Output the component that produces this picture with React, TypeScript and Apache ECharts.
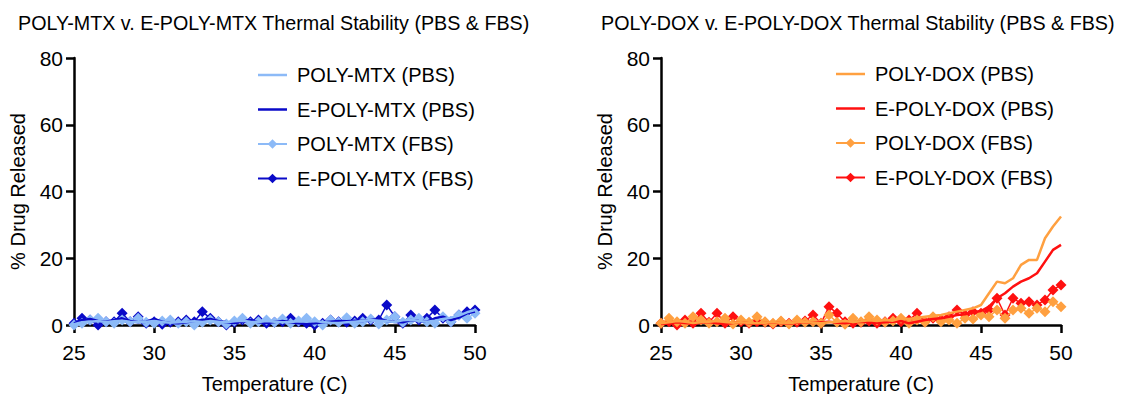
import React, { useEffect, useRef } from "react";
import * as echarts from "echarts";

const temps = [
  25, 25.5, 26, 26.5, 27, 27.5, 28, 28.5, 29, 29.5,
  30, 30.5, 31, 31.5, 32, 32.5, 33, 33.5, 34, 34.5,
  35, 35.5, 36, 36.5, 37, 37.5, 38, 38.5, 39, 39.5,
  40, 40.5, 41, 41.5, 42, 42.5, 43, 43.5, 44, 44.5,
  45, 45.5, 46, 46.5, 47, 47.5, 48, 48.5, 49, 49.5,
  50,
];

const xTicks = { min: 25, max: 50, interval: 5 };
const yTicks = { min: 0, max: 80, interval: 20 };

const mtxPolyPBS = [
  0.2, 0.8, 1.0, 1.2, 0.9, 1.1, 1.3, 1.0, 0.8, 1.0,
  1.2, 0.9, 0.7, 0.8, 1.0, 1.1, 0.9, 1.2, 1.0, 0.8,
  1.1, 1.3, 1.0, 0.9, 1.2, 1.0, 0.8, 0.9, 1.1, 1.0,
  1.2, 0.9, 0.7, 0.6, 0.8, 1.0, 1.2, 1.5, 1.3, 1.1,
  0.9, 1.4, 1.6, 1.2, 1.0, 1.3, 1.8, 2.2, 2.8, 3.8,
  4.5,
];
const mtxEPBS = [
  0.5, 1.5, 1.8, 1.2, 1.0, 1.5, 2.0, 1.2, 0.8, 1.0,
  1.8, 1.0, 0.6, 0.5, 0.8, 1.2, 1.5, 1.8, 1.2, 0.8,
  0.6, 1.0, 1.5, 0.8, 0.6, 0.9, 1.2, 0.8, 0.5, 0.3,
  0.5, 0.8, 1.0, 1.2, 1.1, 1.3, 1.2, 1.5, 1.8, 1.2,
  0.9, 0.8, 1.5, 1.2, 1.0, 2.0, 2.5, 1.5, 2.2, 3.5,
  4.0,
];
const mtxPolyFBS = [
  0.0, 0.5, 1.5, 2.0, 1.0, 0.5, 1.5, 1.0, 2.0, 0.8,
  0.5, 1.2, 1.5, 0.5, 1.0, 0.0, 0.8, 1.5, 1.0, 0.3,
  1.2, 2.0, 0.5, 1.0, 1.5, 0.8, 1.8, 0.5, 1.2, 2.0,
  1.0, 0.0, 1.5, 0.8, 2.2, 0.5, 1.0, 1.8, 0.3, 1.5,
  2.5, 0.8, 1.5, 2.0, 1.0, 0.5, 2.5, 1.0, 3.0, 2.0,
  3.5,
];
const mtxEFBS = [
  0.5, 2.0, 1.5, 0.0, 1.0, 1.0, 3.5, 1.0, 2.5, 0.5,
  1.0, 0.2, 0.8, 1.0, 1.5, 1.0, 4.0, 2.0, 1.0, 0.0,
  0.8, 1.5, 1.0, 1.5, 0.5, 0.8, 1.0, 2.0, 1.0, 0.5,
  0.0, 0.5, 1.5, 1.0, 0.8, 1.2, 2.0, 1.5, 1.5, 6.0,
  2.5, 0.5, 3.0, 1.5, 2.0, 4.5, 2.0, 1.0, 3.0, 4.0,
  4.5,
];

const doxPolyPBS = [
  0.5, 0.8, 1.2, 1.0, 0.6, 0.8, 1.0, 1.2, 0.9, 0.7,
  0.8, 0.6, 0.5, 0.7, 0.9, 0.6, 0.5, 0.8, 1.0, 0.7,
  0.5, 0.8, 1.0, 1.2, 0.9, 1.1, 1.4, 1.2, 1.5, 1.3,
  2.0, 1.8, 2.2, 2.5, 2.8, 3.0, 3.5, 4.0, 4.5, 5.0,
  6.0, 9.5, 13.0, 12.5, 14.0, 18.0, 19.5, 19.5, 26.0, 29.5,
  32.5,
];
const doxEPBS = [
  0.3, 0.5, 0.8, 0.6, 0.4, 0.7, 0.9, 0.5, 0.3, 0.6,
  0.8, 0.5, 0.3, 0.6, 0.8, 0.5, 0.4, 0.7, 0.9, 0.6,
  0.8, 1.0, 0.7, 0.5, 0.8, 1.0, 0.9, 0.6, 0.8, 1.0,
  1.2, 0.5, 1.0, 1.5, 1.8, 2.0, 2.5, 3.0, 3.2, 3.8,
  4.2, 5.5, 8.0, 9.5, 11.5, 13.0, 14.0, 15.5, 19.0, 22.5,
  24.0,
];
const doxPolyFBS = [
  0.5, 2.0, 1.0, 0.5, 2.5, 1.5, 0.5, 1.0, 2.0, 0.3,
  1.5, 0.8, 2.5, 1.0, 0.5, 1.2, 0.3, 1.5, 0.8, 1.0,
  0.5, 3.0, 0.8, 0.2, 2.0, 1.0, 2.5, 1.5, 0.8, 1.2,
  2.0, 0.5, 1.5, 0.8, 2.5, 1.0, 1.5, 0.5, 2.0, 1.8,
  3.0, 2.5, 4.5, 2.0, 4.5, 5.0, 3.5, 5.0, 4.0, 7.0,
  5.5,
];
const doxEFBS = [
  0.5, 1.0, 0.0, 1.5, 0.5, 3.5, 0.8, 3.5, 0.5, 2.5,
  1.0, 0.5, 1.0, 0.8, 0.3, 1.0, 0.5, 0.8, 1.2, 3.0,
  0.5, 5.5, 3.5, 1.0, 0.5, 0.8, 1.2, 0.5, 1.0, 2.0,
  1.0, 1.5, 3.5, 1.0, 2.0, 1.5, 2.5, 4.5, 3.0, 4.0,
  3.5, 4.5, 8.0, 3.0, 8.0, 6.5, 7.0, 6.0, 7.5, 10.5,
  12.0,
];

const leftNames = ["POLY-MTX (PBS)", "E-POLY-MTX (PBS)", "POLY-MTX (FBS)", "E-POLY-MTX (FBS)"];
const rightNames = ["POLY-DOX (PBS)", "E-POLY-DOX (PBS)", "POLY-DOX (FBS)", "E-POLY-DOX (FBS)"];
const titles = [
  "POLY-MTX v. E-POLY-MTX Thermal Stability (PBS & FBS)",
  "POLY-DOX v. E-POLY-DOX Thermal Stability (PBS & FBS)",
];

const C_LIGHTBLUE = "#8cbaf7";
const C_DARKBLUE = "#0a0ac8";
const C_ORANGE = "#ffa040";
const C_RED = "#ff1010";

const FONT = 'Arial, "Liberation Sans", sans-serif';
const LINE_ICON = "path://M0,0 L58,0 L58,5 L0,5 Z";

const pairs = (vals: number[]) => temps.map((t, i) => [t, vals[i]]);

function lineSeries(name: string, vals: number[], color: string, idx: number, z: number) {
  return {
    type: "line",
    name,
    data: pairs(vals),
    xAxisIndex: idx,
    yAxisIndex: idx,
    symbol: "none",
    showSymbol: false,
    lineStyle: { color, width: 2.5 },
    itemStyle: { color },
    z,
  };
}
function markerSeries(name: string, vals: number[], color: string, idx: number, z: number) {
  return {
    type: "line",
    name,
    data: pairs(vals),
    xAxisIndex: idx,
    yAxisIndex: idx,
    symbol: "diamond",
    symbolSize: 11,
    showSymbol: true,
    lineStyle: { color, width: 1.5 },
    itemStyle: { color },
    z,
  };
}

function axisPair(gridIndex: number) {
  return {
    x: {
      type: "value",
      gridIndex,
      min: xTicks.min,
      max: xTicks.max,
      interval: xTicks.interval,
      name: "Temperature (C)",
      nameLocation: "middle",
      nameGap: 49,
      nameTextStyle: { fontSize: 20, color: "#000", fontFamily: FONT },
      axisLine: { show: true, lineStyle: { color: "#000", width: 2.5 } },
      axisTick: { show: true, length: 8, lineStyle: { color: "#000", width: 2.5 } },
      axisLabel: { fontSize: 21, color: "#000", margin: 17, fontFamily: FONT },
      splitLine: { show: false },
    },
    y: {
      type: "value",
      gridIndex,
      min: yTicks.min,
      max: yTicks.max,
      interval: yTicks.interval,
      name: "% Drug Released",
      nameLocation: "middle",
      nameGap: 46,
      nameTextStyle: { fontSize: 20, color: "#000", fontFamily: FONT },
      axisLine: { show: true, lineStyle: { color: "#000", width: 2.5 } },
      axisTick: { show: true, length: 8, lineStyle: { color: "#000", width: 2.5 } },
      axisLabel: { fontSize: 21, color: "#000", margin: 11, fontFamily: FONT },
      splitLine: { show: false },
    },
  };
}

function legendData(names: string[]) {
  return names.map((n, i) => (i < 2 ? { name: n, icon: LINE_ICON } : { name: n }));
}

export default function App() {
  const ref = useRef<HTMLDivElement>(null);
  useEffect(() => {
    if (!ref.current) return;
    const chart = echarts.init(ref.current, undefined, { renderer: "svg" });
    const a0 = axisPair(0);
    const a1 = axisPair(1);
    const legendCommon = {
      orient: "vertical",
      itemWidth: 29,
      itemHeight: 12,
      itemGap: 14.5,
      textStyle: { fontSize: 20, color: "#000", fontFamily: FONT, padding: [0, 0, 0, 5] },
    };
    const titleStyle = { fontSize: 19.7, fontWeight: "normal", color: "#000", fontFamily: FONT };
    chart.setOption({
      animation: false,
      backgroundColor: "#fff",
      title: [
        { text: titles[0], left: 13, top: 8, textStyle: titleStyle },
        { text: titles[1], left: 596, top: 8, textStyle: titleStyle },
      ],
      legend: [
        { ...legendCommon, data: legendData(leftNames), left: 252, top: 60 },
        { ...legendCommon, data: legendData(rightNames), left: 830, top: 59 },
      ],
      grid: [
        { left: 74, top: 58, width: 401, height: 267, containLabel: false, outerBoundsMode: "none" },
        { left: 661, top: 58, width: 400, height: 267, containLabel: false, outerBoundsMode: "none" },
      ],
      xAxis: [a0.x, a1.x],
      yAxis: [a0.y, a1.y],
      series: [
        markerSeries(leftNames[3], mtxEFBS, C_DARKBLUE, 0, 2),
        markerSeries(leftNames[2], mtxPolyFBS, C_LIGHTBLUE, 0, 3),
        lineSeries(leftNames[1], mtxEPBS, C_DARKBLUE, 0, 4),
        lineSeries(leftNames[0], mtxPolyPBS, C_LIGHTBLUE, 0, 5),
        markerSeries(rightNames[3], doxEFBS, C_RED, 1, 2),
        markerSeries(rightNames[2], doxPolyFBS, C_ORANGE, 1, 3),
        lineSeries(rightNames[1], doxEPBS, C_RED, 1, 4),
        lineSeries(rightNames[0], doxPolyPBS, C_ORANGE, 1, 5),
      ],
    });
    return () => chart.dispose();
  }, []);
  return (
    <div
      ref={ref}
      style={{ position: "fixed", left: 0, top: 0, width: 1122, height: 394, background: "#fff" }}
    />
  );
}
